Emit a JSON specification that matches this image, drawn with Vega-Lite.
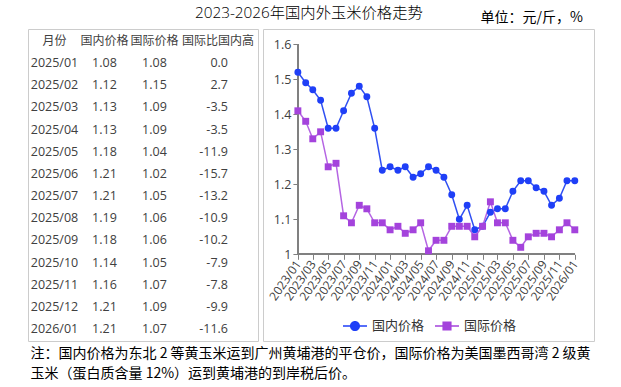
{
  "$schema": "https://vega.github.io/schema/vega-lite/v6.json",
  "padding": {"left": 27, "top": 5, "right": 10, "bottom": 5},
  "config": {
    "view": {"stroke": "#cccccc", "strokeWidth": 1},
    "font": "Open Sans, Noto Sans CJK SC",
    "locale": {"number": {"decimal": ".", "thousands": ",", "grouping": [3], "currency": ["", ""], "minus": "-"}},
    "axisX": {
      "format": "%Y/%m", "formatType": "utc",
      "labelAngle": -55, "labelAlign": "right", "labelBaseline": "middle",
      "labelFontSize": 12, "labelColor": "#404040", "labelFont": "Open Sans",
      "labelPadding": 2, "labelOverlap": false, "labelFlush": false, "labelBound": false,
      "tickColor": "#808080", "tickSize": 5, "tickWidth": 1,
      "domain": false, "grid": false, "offset": -86.7, "title": null
    },
    "axisY": {
      "format": "~g",
      "labelFontSize": 12.5, "labelColor": "#404040", "labelFont": "Open Sans", "labelPadding": 2,
      "tickColor": "#808080", "tickSize": 5, "tickWidth": 1,
      "domain": false, "grid": false, "offset": -34.9, "title": null
    }
  },
  "datasets": {
    "trend": [
      {"date": "2023-01-01", "国内价格": 1.52, "国际价格": 1.41},
      {"date": "2023-02-01", "国内价格": 1.49, "国际价格": 1.38},
      {"date": "2023-03-01", "国内价格": 1.47, "国际价格": 1.33},
      {"date": "2023-04-01", "国内价格": 1.44, "国际价格": 1.35},
      {"date": "2023-05-01", "国内价格": 1.36, "国际价格": 1.25},
      {"date": "2023-06-01", "国内价格": 1.36, "国际价格": 1.26},
      {"date": "2023-07-01", "国内价格": 1.41, "国际价格": 1.11},
      {"date": "2023-08-01", "国内价格": 1.46, "国际价格": 1.09},
      {"date": "2023-09-01", "国内价格": 1.48, "国际价格": 1.14},
      {"date": "2023-10-01", "国内价格": 1.45, "国际价格": 1.13},
      {"date": "2023-11-01", "国内价格": 1.36, "国际价格": 1.09},
      {"date": "2023-12-01", "国内价格": 1.24, "国际价格": 1.09},
      {"date": "2024-01-01", "国内价格": 1.25, "国际价格": 1.07},
      {"date": "2024-02-01", "国内价格": 1.24, "国际价格": 1.08},
      {"date": "2024-03-01", "国内价格": 1.25, "国际价格": 1.06},
      {"date": "2024-04-01", "国内价格": 1.22, "国际价格": 1.07},
      {"date": "2024-05-01", "国内价格": 1.23, "国际价格": 1.09},
      {"date": "2024-06-01", "国内价格": 1.25, "国际价格": 1.01},
      {"date": "2024-07-01", "国内价格": 1.24, "国际价格": 1.04},
      {"date": "2024-08-01", "国内价格": 1.22, "国际价格": 1.04},
      {"date": "2024-09-01", "国内价格": 1.17, "国际价格": 1.08},
      {"date": "2024-10-01", "国内价格": 1.10, "国际价格": 1.08},
      {"date": "2024-11-01", "国内价格": 1.14, "国际价格": 1.08},
      {"date": "2024-12-01", "国内价格": 1.07, "国际价格": 1.05},
      {"date": "2025-01-01", "国内价格": 1.08, "国际价格": 1.08},
      {"date": "2025-02-01", "国内价格": 1.12, "国际价格": 1.15},
      {"date": "2025-03-01", "国内价格": 1.13, "国际价格": 1.09},
      {"date": "2025-04-01", "国内价格": 1.13, "国际价格": 1.09},
      {"date": "2025-05-01", "国内价格": 1.18, "国际价格": 1.04},
      {"date": "2025-06-01", "国内价格": 1.21, "国际价格": 1.02},
      {"date": "2025-07-01", "国内价格": 1.21, "国际价格": 1.05},
      {"date": "2025-08-01", "国内价格": 1.19, "国际价格": 1.06},
      {"date": "2025-09-01", "国内价格": 1.18, "国际价格": 1.06},
      {"date": "2025-10-01", "国内价格": 1.14, "国际价格": 1.05},
      {"date": "2025-11-01", "国内价格": 1.16, "国际价格": 1.07},
      {"date": "2025-12-01", "国内价格": 1.21, "国际价格": 1.09},
      {"date": "2026-01-01", "国内价格": 1.21, "国际价格": 1.07}
    ],
    "table": [
      {"month": "2025/01", "dom": 1.08, "intl": 1.08, "diff": 0.0},
      {"month": "2025/02", "dom": 1.12, "intl": 1.15, "diff": 2.7},
      {"month": "2025/03", "dom": 1.13, "intl": 1.09, "diff": -3.5},
      {"month": "2025/04", "dom": 1.13, "intl": 1.09, "diff": -3.5},
      {"month": "2025/05", "dom": 1.18, "intl": 1.04, "diff": -11.9},
      {"month": "2025/06", "dom": 1.21, "intl": 1.02, "diff": -15.7},
      {"month": "2025/07", "dom": 1.21, "intl": 1.05, "diff": -13.2},
      {"month": "2025/08", "dom": 1.19, "intl": 1.06, "diff": -10.9},
      {"month": "2025/09", "dom": 1.18, "intl": 1.06, "diff": -10.2},
      {"month": "2025/10", "dom": 1.14, "intl": 1.05, "diff": -7.9},
      {"month": "2025/11", "dom": 1.16, "intl": 1.07, "diff": -7.8},
      {"month": "2025/12", "dom": 1.21, "intl": 1.09, "diff": -9.9},
      {"month": "2026/01", "dom": 1.21, "intl": 1.07, "diff": -11.6}
    ],
    "header": [
      {"month": "月份", "col": "月份"},
      {"month": "月份", "col": "国内价格"},
      {"month": "月份", "col": "国际价格"},
      {"month": "月份", "col": "国际比国内高"}
    ]
  },
  "title": {
    "text": ["注：国内价格为东北 2 等黄玉米运到广州黄埔港的平仓价，国际价格为美国墨西哥湾 2 级黄", "玉米（蛋白质含量 12%）运到黄埔港的到岸税后价。"],
    "orient": "bottom", "anchor": "start", "fontSize": 14, "fontWeight": "normal",
    "font": "Noto Sans CJK SC", "lineHeight": 20, "offset": 5, "dx": 3, "color": "#000000"
  },
  "spacing": 5,
  "bounds": "flush",
  "resolve": {"scale": {"color": "independent", "shape": "independent"}, "legend": {"color": "independent", "shape": "independent"}},
  "hconcat": [
    {
      "width": 230,
      "height": 312,
      "title": {"text": "2023-2026年国内外玉米价格走势", "anchor": "start", "dx": 167, "fontSize": 15.3, "fontWeight": 300, "font": "Open Sans, Noto Sans CJK SC", "offset": 7.5, "color": "#000000"},
      "data": {"name": "table"},
      "layer": [
        {
          "data": {"name": "header"},
          "transform": [{"filter": "datum.col !== '国际比国内高'"}],
          "mark": {"type": "text", "fontSize": 12, "font": "Noto Sans CJK SC", "color": "#404040", "baseline": "middle"},
          "encoding": {
            "x": {"field": "col", "type": "ordinal", "scale": {"type": "point", "domain": ["月份", "国内价格", "国际价格", "国际比国内高"], "padding": 0.8, "align": 0.331}, "axis": null},
            "y": {"field": "month", "type": "ordinal", "scale": {"type": "point", "domain": ["月份", "2025/01", "2025/02", "2025/03", "2025/04", "2025/05", "2025/06", "2025/07", "2025/08", "2025/09", "2025/10", "2025/11", "2025/12", "2026/01"], "padding": 0.543}, "axis": null},
            "text": {"field": "col"}
          }
        },
        {
          "data": {"name": "header"},
          "transform": [{"filter": "datum.col === '国际比国内高'"}],
          "mark": {"type": "text", "fontSize": 12, "font": "Noto Sans CJK SC", "color": "#404040", "baseline": "middle", "dx": 13.5},
          "encoding": {
            "x": {"field": "col", "type": "ordinal", "axis": null},
            "y": {"field": "month", "type": "ordinal", "axis": null},
            "text": {"field": "col"}
          }
        },
        {
          "mark": {"type": "text", "fontSize": 12.5, "color": "#404040", "baseline": "middle"},
          "encoding": {
            "x": {"datum": "月份", "type": "ordinal", "axis": null},
            "y": {"field": "month", "type": "ordinal", "axis": null},
            "text": {"field": "month"}
          }
        },
        {
          "mark": {"type": "text", "fontSize": 12.5, "color": "#404040", "baseline": "middle"},
          "encoding": {
            "x": {"datum": "国内价格", "type": "ordinal", "axis": null},
            "y": {"field": "month", "type": "ordinal", "axis": null},
            "text": {"field": "dom", "type": "quantitative", "format": ".2f"}
          }
        },
        {
          "mark": {"type": "text", "fontSize": 12.5, "color": "#404040", "baseline": "middle"},
          "encoding": {
            "x": {"datum": "国际价格", "type": "ordinal", "axis": null},
            "y": {"field": "month", "type": "ordinal", "axis": null},
            "text": {"field": "intl", "type": "quantitative", "format": ".2f"}
          }
        },
        {
          "mark": {"type": "text", "fontSize": 12.5, "color": "#404040", "baseline": "middle", "align": "right", "dx": 23.5},
          "encoding": {
            "x": {"datum": "国际比国内高", "type": "ordinal", "axis": null},
            "y": {"field": "month", "type": "ordinal", "axis": null},
            "text": {"field": "diff", "type": "quantitative", "format": ".1f"}
          }
        }
      ]
    },
    {
      "width": 331,
      "height": 312,
      "title": {"text": "单位：元/斤，%", "anchor": "end", "dx": -11, "fontSize": 14, "fontWeight": "normal", "font": "Noto Sans CJK SC", "offset": 4, "color": "#000000"},
      "data": {"name": "trend"},
      "transform": [{"fold": ["国内价格", "国际价格"], "as": ["series", "value"]}],
      "encoding": {
        "x": {"field": "date", "type": "temporal",
          "scale": {"type": "utc", "nice": false, "domain": [{"year": 2022, "month": 8, "date": 16, "utc": true}, {"year": 2026, "month": 3, "date": 18, "utc": true}]},
          "axis": {"values": [
              {"year": 2023, "month": 1, "date": 1, "utc": true}, {"year": 2023, "month": 3, "date": 1, "utc": true},
              {"year": 2023, "month": 5, "date": 1, "utc": true}, {"year": 2023, "month": 7, "date": 1, "utc": true},
              {"year": 2023, "month": 9, "date": 1, "utc": true}, {"year": 2023, "month": 11, "date": 1, "utc": true},
              {"year": 2024, "month": 1, "date": 1, "utc": true}, {"year": 2024, "month": 3, "date": 1, "utc": true},
              {"year": 2024, "month": 5, "date": 1, "utc": true}, {"year": 2024, "month": 7, "date": 1, "utc": true},
              {"year": 2024, "month": 9, "date": 1, "utc": true}, {"year": 2024, "month": 11, "date": 1, "utc": true},
              {"year": 2025, "month": 1, "date": 1, "utc": true}, {"year": 2025, "month": 3, "date": 1, "utc": true},
              {"year": 2025, "month": 5, "date": 1, "utc": true}, {"year": 2025, "month": 7, "date": 1, "utc": true},
              {"year": 2025, "month": 9, "date": 1, "utc": true}, {"year": 2025, "month": 11, "date": 1, "utc": true},
              {"year": 2026, "month": 1, "date": 1, "utc": true}
            ], "format": "%Y/%m", "formatType": "utc", "title": null, "labelOverlap": false, "labelSeparation": -100, "labelAngle": -55, "labelAlign": "right", "labelBaseline": "middle"}},
        "y": {"field": "value", "type": "quantitative",
          "scale": {"domain": [0.7523, 1.6437], "zero": false, "nice": false},
          "axis": {"values": [1, 1.1, 1.2, 1.3, 1.4, 1.5, 1.6], "format": "~g", "title": null}}
      },
      "layer": [
        {
          "mark": {"type": "rule", "color": "#808080", "strokeWidth": 1.5},
          "encoding": {
            "x": {"datum": {"year": 2023, "month": 1, "date": 1, "utc": true}, "type": "temporal"},
            "y": {"datum": 1, "type": "quantitative"},
            "y2": {"datum": 1.6}
          }
        },
        {
          "mark": {"type": "rule", "color": "#808080", "strokeWidth": 1.5},
          "encoding": {
            "x": {"datum": {"year": 2023, "month": 1, "date": 1, "utc": true}, "type": "temporal"},
            "x2": {"datum": {"year": 2026, "month": 1, "date": 1, "utc": true}},
            "y": {"datum": 1, "type": "quantitative"}
          }
        },
        {
          "transform": [{"filter": "datum.series === '国内价格'"}],
          "mark": {"type": "line", "strokeWidth": 1.5, "color": "#3050f2"}
        },
        {
          "transform": [{"filter": "datum.series === '国际价格'"}],
          "mark": {"type": "line", "strokeWidth": 1.5, "color": "#b565e3"}
        },
        {
          "transform": [{"filter": "datum.series === '国内价格'"}],
          "mark": {"type": "point", "filled": true, "opacity": 1, "size": 48, "shape": "circle", "color": "#1f3ff7"}
        },
        {
          "transform": [{"filter": "datum.series === '国际价格'"}],
          "mark": {"type": "point", "filled": true, "opacity": 1, "size": 48, "shape": "square", "color": "#a443dc"}
        },
        {
          "mark": {"type": "point", "filled": true, "opacity": 0, "size": 48},
          "encoding": {
            "color": {
              "field": "series", "type": "nominal",
              "scale": {"domain": ["国内价格", "国际价格"], "range": ["#1f3ff7", "#a443dc"]},
              "legend": {
                "title": null, "orient": "none", "legendX": 80, "legendY": 285, "direction": "horizontal",
                "symbolSize": 576, "symbolOpacity": 1, "labelFontSize": 13, "labelFont": "Noto Sans CJK SC", "labelColor": "#333333",
                "columnPadding": 10, "labelOffset": 5, "symbolStrokeWidth": 0
              }
            },
            "shape": {
              "field": "series", "type": "nominal",
              "scale": {"domain": ["国内价格", "国际价格"], "range": ["M-1 -0.06H1V0.06H-1Z M0.42 0A0.42 0.42 0 1 1 -0.42 0A0.42 0.42 0 1 1 0.42 0Z", "M-1 -0.06H1V0.06H-1Z M-0.38 -0.38H0.38V0.38H-0.38Z"]},
              "legend": {
                "title": null, "orient": "none", "legendX": 80, "legendY": 285, "direction": "horizontal",
                "symbolSize": 576, "symbolOpacity": 1, "labelFontSize": 13, "labelFont": "Noto Sans CJK SC", "labelColor": "#333333",
                "columnPadding": 10, "labelOffset": 5, "symbolStrokeWidth": 0
              }
            }
          }
        }
      ]
    }
  ]
}
